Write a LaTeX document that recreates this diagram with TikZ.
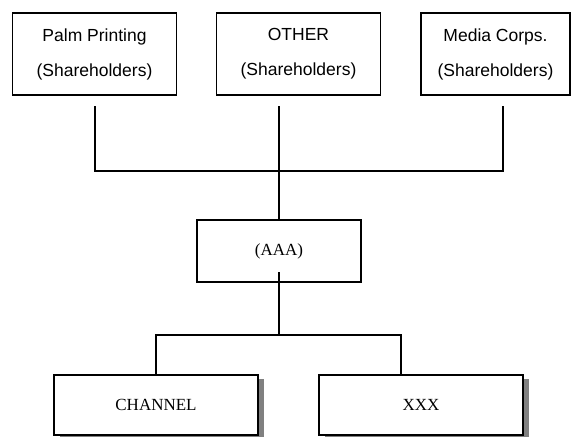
\documentclass[tikz,border=0pt]{standalone}
\usepackage{fontspec}
\setmainfont{Liberation Serif}
\newfontfamily\headfont{Liberation Sans}
\usetikzlibrary{shadows}
\tikzset{ tbox/.style = { rectangle
                        , draw
                        , line width     = 1.3pt
                        , inner sep      = 0pt
                        , minimum height = 82pt
                        , align          = center
                        , font           = \headfont\fontsize{17.5}{35}\selectfont
                        },
          abox/.style = { rectangle
                        , draw
                        , fill           = white
                        , line width     = 1.3pt
                        , inner sep      = 0pt
                        , minimum height = 62pt
                        , font           = \fontsize{17}{20}\selectfont
                        },
          sbox/.style = { abox
                        , minimum height = 60pt
                        , drop shadow    = {shadow xshift=5.5pt, shadow yshift=-4pt, fill=black!50, opacity=1}
                        },
          link/.style = { line width = 1.3pt }
        }
\begin{document}
\begin{tikzpicture}[x=1pt, y=-1pt]
    \useasboundingbox (0,0) rectangle (575,436);
    \foreach \n/\x/\w/\t in {palm/94.5/164/Palm Printing, other/298.5/164/OTHER,
                             media/495.5/149/Media Corps.} {
      \node[tbox, minimum width=\w pt] (\n) at (\x,54) {\t\\(Shareholders)};
    }
    \node[abox, minimum width=164pt] (aaa) at (279,251) {(AAA)};
    \node[sbox, minimum width=204pt] (channel) at (156,405) {CHANNEL};
    \node[sbox, minimum width=204pt] (xxx) at (421,405) {XXX};
    \coordinate (palm-t)  at (95,106);
    \coordinate (other-t) at (279,106);
    \coordinate (media-t) at (503,106);
    \coordinate (bus)     at (0,171);
    \coordinate (aaa-t)   at (279,272);
    \coordinate (low)     at (0,335);
    \coordinate (xxx-t)   at (401,375);
    \draw[link] (palm-t) |- (bus -| media-t) -- (media-t);
    \draw[link] (other-t) -- (aaa.north -| other-t);
    \draw[link] (aaa-t) -- (low -| aaa-t);
    \draw[link] (channel.north) |- (low -| xxx-t) -- (xxx-t);
\end{tikzpicture}
\end{document}
